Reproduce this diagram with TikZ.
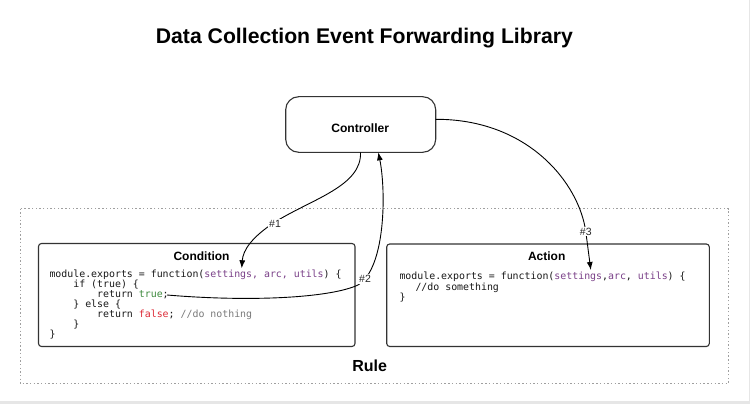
\documentclass[tikz,border=0pt]{standalone}
\usepackage{fontspec}
\setmainfont{Liberation Sans}
\newfontfamily\codefont{DejaVu Sans Mono}
\usetikzlibrary{arrows.meta}
\definecolor{kwpurple}{HTML}{7A4088}
\definecolor{kwgreen}{HTML}{3E8A3E}
\definecolor{kwred}{HTML}{DD2C38}
\definecolor{cmgray}{HTML}{7A7A7A}
\definecolor{boxline}{HTML}{333333}
\definecolor{bandgray}{HTML}{E6E6E6}
\newcommand{\pv}[1]{\textcolor{kwpurple}{#1}}
\tikzset{
  ctrlbox/.style={draw=boxline, line width=1.1pt, rounded corners=13pt},
  partbox/.style={draw=boxline, line width=1.1pt, rounded corners=3pt},
  rulebox/.style={draw=gray!75, line width=0.9pt, dash pattern=on 1.4pt off 2.3pt},
  boxtitle/.style={font=\fontsize{12}{14}\selectfont\bfseries, inner sep=0pt, anchor=base},
  codeline/.style={font=\codefont\fontsize{9.9}{10}\selectfont, text=black!90, inner sep=0pt, anchor=base west},
  conn/.style={draw=black, line width=0.9pt, -{Latex[length=8pt,width=6pt]}},
  connlabel/.style={font=\fontsize{10.5}{12}\selectfont, text=black!85, fill=white, inner sep=1pt}
}
\begin{document}
\begin{tikzpicture}[x=1pt,y=-1pt]
\useasboundingbox (0,0) rectangle (750,404);
\fill[white] (0,0) rectangle (750,404);
\fill[bandgray] (0,401) rectangle (750,404);
\fill[bandgray] (748.5,0) rectangle (750,404);

% title
\node[font=\fontsize{21.2}{24}\selectfont\bfseries, inner sep=0pt, anchor=base] (title) at (364.4,43.3) {Data Collection Event Forwarding Library};

% rule container
\draw[rulebox] (20,208.5) rectangle (728.5,383.5);
\node[font=\fontsize{16}{18}\selectfont\bfseries, inner sep=0pt, anchor=base] (rulelbl) at (369.7,371.5) {Rule};

% controller
\draw[ctrlbox] (285.7,96.7) rectangle (435.7,152.3);
\node[font=\fontsize{12.1}{14}\selectfont\bfseries, inner sep=0pt, anchor=base] (ctrltxt) at (360.2,132.3) {Controller};
\coordinate (ctrlB1) at (360.5,152.3);
\coordinate (ctrlB2) at (378.3,152.3);
\coordinate (ctrlR) at (435.7,119.3);

% condition box
\draw[partbox] (38.5,243.5) rectangle (355,346.5);
\node[boxtitle] (condt) at (201.5,260.7) {Condition};
\node[codeline] (c1) at (49.3,277.3) {module.exports = function(\pv{settings, arc, utils}) \{};
\node[codeline] (c2) at (49.3,287.4) {\phantom{xxxx}if (true) \{};
\node[codeline] (c3) at (49.3,297.5) {\phantom{xxxxxxxx}return \textcolor{kwgreen}{true};};
\node[codeline] (c4) at (49.3,307.6) {\phantom{xxxx}\} else \{};
\node[codeline] (c5) at (49.3,317.7) {\phantom{xxxxxxxx}return \textcolor{kwred}{false}; \textcolor{cmgray}{//do nothing}};
\node[codeline] (c6) at (49.3,327.8) {\phantom{xxxx}\}};
\node[codeline] (c7) at (49.3,337.9) {\}};
\coordinate (trueend) at (167,295);
\coordinate (condtgt) at (241.7,268.3);

% action box
\draw[partbox] (386.7,244) rectangle (709.3,346.5);
\node[boxtitle] (actt) at (546.7,260.7) {Action};
\node[codeline] (a1) at (399.3,279.5) {module.exports = function(\pv{settings},\pv{arc}, \pv{utils}) \{};
\node[codeline] (a2) at (399.3,290) {\hspace*{16pt}//do something};
\node[codeline] (a3) at (399.3,300.3) {\}};
\coordinate (acttgt) at (590.8,270);

% connectors
\draw[conn] (ctrlB1) .. controls (362,186) and (312,199) .. (275,222)
  .. controls (252,237) and (243,250) .. (condtgt);
\node[connlabel] (l1) at (275,223.5) {\#1};

\draw[conn] (trueend) .. controls (250,302) and (330,298) .. (358,285)
  .. controls (386,268) and (386,190) .. (ctrlB2);
\node[connlabel] (l2) at (365,279) {\#2};

\draw[conn] (ctrlR) .. controls (528,119) and (579,183) .. (585.8,231.7) -- (acttgt);
\node[connlabel] (l3) at (585.8,231.7) {\#3};
\end{tikzpicture}
\end{document}
